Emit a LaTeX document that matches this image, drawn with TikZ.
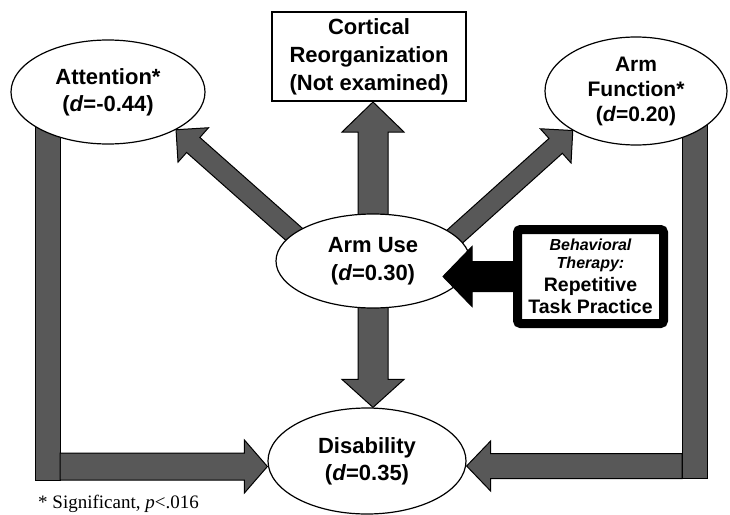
\documentclass[tikz,border=0pt]{standalone}
\usepackage{fontspec}
\setmainfont{Liberation Sans}
\newfontfamily\notefont{Liberation Serif}
\usetikzlibrary{calc,shapes.geometric}
\pgfdeclarelayer{background}
\pgfdeclarelayer{front}
\pgfdeclarelayer{top}
\pgfsetlayers{background,main,front,top}
\definecolor{arrowgray}{RGB}{88,88,88}
\tikzset{
  oval/.style={ellipse, draw=black, line width=1.2pt, fill=white, inner sep=0pt,
    align=center, font=\bfseries\fontsize{22}{27}\selectfont},
  boxnode/.style={draw=black, fill=white, inner sep=0pt, align=center},
  graybody/.style={fill=arrowgray, draw=black, line width=1pt, line join=miter},
  blackbody/.style={fill=black, draw=black, line width=1pt, line join=miter},
}
% Block arrow: #1 style, #2 tail, #3 tip, #4 half shaft width,
% #5 half head width, #6 head length
\newcommand\fatarrow[6]{%
  \coordinate (fa-base) at ($(#3)!#6!(#2)$);
  \path[#1] ($(#2)!#4!90:(#3)$) -- ($(fa-base)!#4!90:(#3)$)
    -- ($(fa-base)!#5!90:(#3)$) -- (#3) -- ($(fa-base)!#5!-90:(#3)$)
    -- ($(fa-base)!#4!-90:(#3)$) -- ($(#2)!#4!-90:(#3)$) -- cycle;}
\begin{document}
\begin{tikzpicture}[x=1pt,y=-1pt]
\useasboundingbox (0,0) rectangle (730,514);
\begin{pgfonlayer}{background}
  \fill[white] (0,0) rectangle (730,514);
\end{pgfonlayer}

% outcome nodes
\node[oval, minimum width=194pt, minimum height=104pt] (att) at (108,92)
  {Attention*\\(\textit{d}=-0.44)};
\node[oval, minimum width=182pt, minimum height=108pt,
  font=\bfseries\fontsize{21}{25}\selectfont] (fun) at (636,91)
  {Arm\\Function*\\(\textit{d}=0.20)};
\node[boxnode, line width=2pt, minimum width=194pt, minimum height=89pt,
  font=\bfseries\fontsize{22}{28}\selectfont] (cort) at (369,56.5)
  {Cortical\\Reorganization\\(Not examined)};
\node[oval, minimum width=198pt, minimum height=106pt] (dis) at (367,461)
  {Disability\\(\textit{d}=0.35)};
\begin{pgfonlayer}{front}
  \node[oval, minimum width=194pt, minimum height=94pt,
    font=\bfseries\fontsize{22}{28}\selectfont] (use) at (373,261)
    {Arm Use\\(\textit{d}=0.30)};
\end{pgfonlayer}

% intervention box
\node[boxnode, line width=9pt, rounded corners=3pt, minimum width=146pt,
  minimum height=94pt, font=\bfseries\fontsize{19.5}{22}\selectfont] (beh)
  at (590.5,276.5)
  {{\itshape\fontsize{16}{18}\selectfont Behavioral}\\[-4pt]
   {\itshape\fontsize{16}{18}\selectfont Therapy:}\\[1pt]
   Repetitive\\Task Practice};

% footnote
\node[anchor=base west, inner sep=0pt,
  font=\notefont\fontsize{19}{22}\selectfont] (note) at (38,508)
  {* Significant, \textit{p}<.016};

% arrows out of Arm Use
\coordinate (tip1) at (att.-29);
\coordinate (t1) at ($(use.161)!-14pt!(tip1)$);
\fatarrow{graybody}{t1}{tip1}{10pt}{23pt}{23pt}
\coordinate (tip2) at (fun.212);
\coordinate (t2) at ($(use.17)!-14pt!(tip2)$);
\fatarrow{graybody}{t2}{tip2}{10pt}{23pt}{23pt}
\coordinate (tip3) at (use.north |- cort.south);
\coordinate (t3) at ($(use.north)+(0,15)$);
\fatarrow{graybody}{t3}{tip3}{15pt}{31pt}{30pt}
\coordinate (tip4) at (use.south |- dis.north);
\coordinate (t4) at ($(use.south)+(0,-15)$);
\fatarrow{graybody}{t4}{tip4}{15pt}{31pt}{28pt}

% elbow connectors into Disability
\coordinate (lcorner) at (47.5,466.5);
\coordinate (rcorner) at (694.5,466);
\begin{pgfonlayer}{background}
  \draw[graybody] ($(lcorner |- att.center)+(-12.5,0)$) rectangle ($(lcorner)+(12.5,13.5)$);
  \draw[graybody] ($(rcorner |- fun.center)+(-12.5,0)$) rectangle ($(rcorner)+(12.5,12.5)$);
\end{pgfonlayer}
\coordinate (ltail) at ($(lcorner)+(12.5,0)$);
\coordinate (ltip) at (dis.west |- lcorner);
\fatarrow{graybody}{ltail}{ltip}{13.5pt}{26.5pt}{23pt}
\coordinate (rtail) at ($(rcorner)+(-12.5,0)$);
\coordinate (rtip) at (dis.east |- rcorner);
\fatarrow{graybody}{rtail}{rtip}{12.5pt}{25pt}{24pt}

% therapy acting on Arm Use
\begin{pgfonlayer}{top}
  \coordinate (btip) at (443,276.5);
  \fatarrow{blackbody}{beh.west}{btip}{15pt}{30pt}{29pt}
\end{pgfonlayer}
\end{tikzpicture}
\end{document}
